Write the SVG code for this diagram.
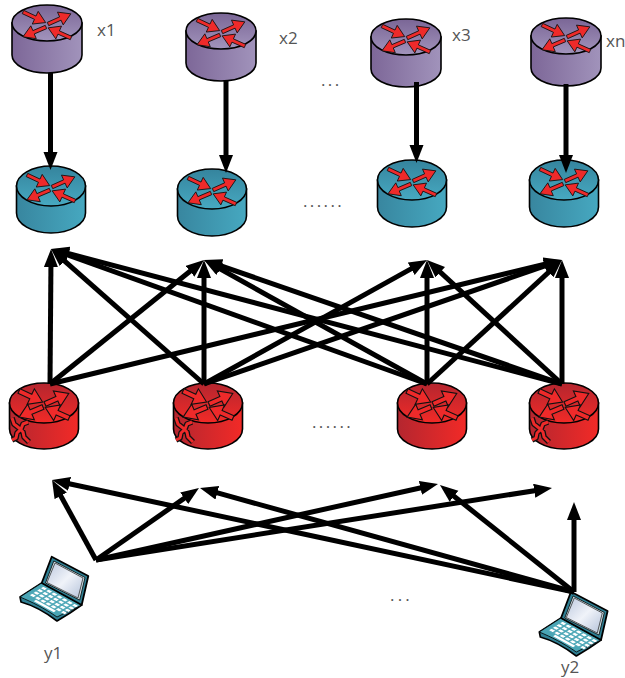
<svg xmlns="http://www.w3.org/2000/svg" width="625" height="678" viewBox="0 0 625 678">
<style>
.lbl{font-family:"Open Sans","Noto Sans",sans-serif;font-size:17px;fill:#555}
.dots{letter-spacing:2.4px}
.edge{stroke:#000;stroke-width:5;fill:none;marker-end:url(#ah)}
.rim{stroke:#000;stroke-width:1.6}
.arw{fill:#ee2a2a;stroke:#111;stroke-width:.8}
.arr{fill:#ee2a2a;stroke:#111;stroke-width:1.1}
</style>
<defs>
<marker id="ah" markerUnits="userSpaceOnUse" markerWidth="20" markerHeight="16" refX="10" refY="7" orient="auto"><path d="M0 0L18 7L0 14Z" fill="#000"/></marker>
<linearGradient id="pb" x1="0" x2="1" y1="0" y2="0"><stop offset="0" stop-color="#7d6798"/><stop offset="1" stop-color="#a193bb"/></linearGradient>
<linearGradient id="pt" x1="0" x2="0" y1="0" y2="1"><stop offset="0" stop-color="#7a6696"/><stop offset="1" stop-color="#a294bc"/></linearGradient>
<linearGradient id="tb" x1="0" x2="1" y1="0" y2="0"><stop offset="0" stop-color="#38869f"/><stop offset="1" stop-color="#46a8c0"/></linearGradient>
<linearGradient id="tt" x1="0" x2="0" y1="0" y2="1"><stop offset="0" stop-color="#35849d"/><stop offset="1" stop-color="#47a9c1"/></linearGradient>
<linearGradient id="rb" x1="0" x2="1" y1="0" y2="0"><stop offset="0" stop-color="#b4262f"/><stop offset="1" stop-color="#f22a27"/></linearGradient>
<linearGradient id="rt" x1="0" x2="0" y1="0" y2="1"><stop offset="0" stop-color="#b4262f"/><stop offset="1" stop-color="#f22a27"/></linearGradient>
<linearGradient id="scr" x1="0" x2="1" y1="0" y2="1"><stop offset="0" stop-color="#bcc8de"/><stop offset=".5" stop-color="#f0f3f9"/><stop offset="1" stop-color="#b4c2da"/></linearGradient>
<pattern id="keys" patternUnits="userSpaceOnUse" width="13" height="17" x="8" y="8"><rect x="2" y="3" width="9" height="11" fill="#fff"/></pattern>
<path id="a" d="M0-1.800H13.500V-7L25 0L13.500 7V1.800H0Z"/>
<path id="ar" d="M0-2.400H13V-8.500L26 0L13 8.500V2.400H0Z"/>
<g id="arrows" class="arw">
<use href="#a" transform="translate(-24,-11) rotate(25)"/>
<use href="#a" transform="translate(1,1) rotate(-24)"/>
<use href="#a" transform="translate(-1,4) rotate(157)"/>
<use href="#a" transform="translate(24,15) rotate(204)"/>
</g>
<g id="arrowsr" class="arr">
<use href="#ar" transform="translate(-25,-12) rotate(25)"/>
<use href="#ar" transform="translate(1,1) rotate(-24)"/>
<use href="#ar" transform="translate(-1,4) rotate(157)"/>
<use href="#ar" transform="translate(25,15) rotate(204)"/>
</g>
<g id="rp">
<path class="rim" fill="url(#pb)" d="M-35 0V32A35 18 0 0 0 35 32V0Z"/>
<ellipse class="rim" rx="35" ry="18" fill="url(#pt)"/>
<use href="#arrows"/>
</g>
<g id="rg">
<path class="rim" fill="url(#tb)" d="M-34.500 0V27A34.500 20 0 0 0 34.500 27V0Z"/>
<ellipse class="rim" rx="34.500" ry="20" fill="url(#tt)"/>
<use href="#arrows"/>
</g>
<g id="rr">
<path class="rim" fill="url(#rb)" d="M-34.500 0V26A34.500 20 0 0 0 34.500 26V0Z"/>
<ellipse class="rim" rx="34.500" ry="20" fill="url(#rt)"/>
<use href="#arrowsr"/>
</g>
<g id="cross" fill="none" stroke-linejoin="round">
<path d="M-8-12L-6-6L-1-2L3 2L4 7L9 12M8-8L3-6L1-1L-3 3L-4 8L-8 10" stroke="#111" stroke-width="5.600"/>
<path d="M-8-12L-6-6L-1-2L3 2L4 7L9 12M8-8L3-6L1-1L-3 3L-4 8L-8 10" stroke="#ee2a2a" stroke-width="3"/>
</g>
<g id="laptop">
<path d="M20 597L41.700 583L81.700 605L70 613L57 621C44 611 32 605 21 602Z" fill="#2f7f93" stroke="#000" stroke-width="1.600" stroke-linejoin="round"/>
<path d="M20 597L41.700 583L81.700 605L57 617C44 608 32 602 20 597Z" fill="#4aa5b5" stroke="#000" stroke-width=".8"/>
<g transform="matrix(.4,.22,-.217,.137,41.7,583)">
<rect x="8" y="8" width="91" height="68" fill="url(#keys)"/>
<rect x="28" y="78" width="50" height="10" fill="#fff"/>
</g>
<path d="M41.700 583L51.700 556.700L88.300 576L81.700 605Z" fill="#2f7f93" stroke="#000" stroke-width="1.800" stroke-linejoin="round"/>
<path d="M45.500 583L53.800 561L85 577.500L79.700 600Z" fill="#cfe0e6" stroke="#000" stroke-width=".8"/>
<path d="M47 582.500L55 563L83 578L78 598Z" fill="url(#scr)" stroke="#333" stroke-width=".8"/>
</g>
</defs>

<g id="x1"><use href="#rp" x="47" y="23"/><text class="lbl" x="97" y="36">x1</text></g>
<g id="x2"><use href="#rp" x="221" y="31"/><text class="lbl" x="279" y="44">x2</text></g>
<g id="x3"><use href="#rp" x="406" y="37"/><text class="lbl" x="452" y="41">x3</text></g>
<g id="xn"><use href="#rp" x="566" y="36"/><text class="lbl" x="606" y="47">xn</text></g>
<g id="s1"><use href="#rg" x="51" y="186"/></g>
<g id="s2"><use href="#rg" x="212" y="189"/></g>
<g id="s3"><use href="#rg" x="412" y="180"/></g>
<g id="s4"><use href="#rg" x="564" y="180"/></g>
<g id="r1"><use href="#rr" x="44" y="403"/><use href="#cross" x="20" y="430"/></g>
<g id="r2"><use href="#rr" x="208" y="403"/><use href="#cross" x="184" y="430"/></g>
<g id="r3"><use href="#rr" x="432" y="403"/></g>
<g id="r4"><use href="#rr" x="564" y="403"/><use href="#cross" x="540" y="430"/></g>
<g id="y1"><use href="#laptop"/><text class="lbl" x="44" y="659">y1</text></g>
<g id="y2"><use href="#laptop" x="519.300" y="35"/><text class="lbl" x="561" y="673">y2</text></g>
<g id="gaps">
<text class="lbl dots" x="321" y="86">...</text>
<text class="lbl dots" x="303" y="207">......</text>
<text class="lbl dots" x="312" y="428">......</text>
<text class="lbl" style="letter-spacing:3.200px" x="390" y="601">...</text>
</g>

<g id="connectors">
<path class="edge" d="M50.500 73V162"/>
<path class="edge" d="M226 80V165"/>
<path class="edge" d="M416.500 82V155"/>
<path class="edge" d="M566 84V165"/>
<path class="edge" d="M50 384L51 257"/>
<path class="edge" d="M50 384L197.800 265"/>
<path class="edge" d="M50 384L554.200 261.900"/>
<path class="edge" d="M204 384L57 254.300"/>
<path class="edge" d="M204 384V268"/>
<path class="edge" d="M204 384L420 263.900"/>
<path class="edge" d="M204 384L554.400 262.600"/>
<path class="edge" d="M427 384L58.500 251.700"/>
<path class="edge" d="M427 384L211 263.900"/>
<path class="edge" d="M427 384V268"/>
<path class="edge" d="M427 384L556.100 265.400"/>
<path class="edge" d="M562 384L58.700 251"/>
<path class="edge" d="M562 384L211.600 262.600"/>
<path class="edge" d="M562 384L432.900 265.400"/>
<path class="edge" d="M562 384V268"/>
<path class="edge" d="M96 560L55.900 487"/>
<path class="edge" d="M96 560L192.400 492.600"/>
<path class="edge" d="M96 560L430.200 485.700"/>
<path class="edge" d="M96 560L544.100 489.200"/>
<path class="edge" d="M574 592L59.800 481.700"/>
<path class="edge" d="M574 592L207.700 490.100"/>
<path class="edge" d="M574 592L446.200 490"/>
<path class="edge" d="M574 592V510"/>
</g>
</svg>
